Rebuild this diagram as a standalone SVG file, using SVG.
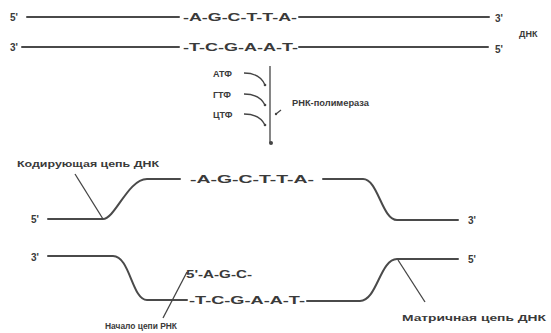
<svg xmlns="http://www.w3.org/2000/svg" width="551" height="333" viewBox="0 0 551 333">
<style>
text{font-family:"Liberation Sans",Arial,sans-serif;font-weight:bold;fill:#3a3a3a;font-size:10px}
.seq{font-size:10px}
.lbl{font-size:9px}
.ln{fill:none;stroke:#4a4a4a;stroke-width:2;stroke-linecap:round}
.thin{fill:none;stroke:#444;stroke-width:1.3}
</style>
<rect width="551" height="333" fill="#fff"/>
<g id="connectors">
<line class="ln" x1="27" y1="17" x2="179" y2="17"/>
<line class="ln" x1="299" y1="17" x2="489" y2="17"/>
<line class="ln" x1="22" y1="47" x2="179" y2="47"/>
<line class="ln" x1="299" y1="47" x2="488" y2="47"/>
<path class="ln" d="M48 219 H103 C115 219 128 179 147 179 H180"/>
<path class="ln" d="M323 179 H363 C378 179 382 220 397 220 H458"/>
<path class="ln" d="M48 256 H113 C130 256 132 300 147 300 H187"/>
<path class="ln" d="M307 301 H360 C377 301 380 259 397 259 H458"/>
<line class="thin" x1="75" y1="174" x2="103" y2="219"/>
<line class="thin" x1="187" y1="272" x2="163" y2="318"/>
<line class="thin" x1="398" y1="260" x2="425" y2="302"/>
<line class="thin" x1="270" y1="66" x2="270" y2="143"/>
<circle cx="271" cy="143" r="2" fill="#444"/>
<path class="thin" d="M244 73 C255 73 262 78 265 85"/>
<path class="thin" d="M244 94 C255 94 262 99 265 105"/>
<path class="thin" d="M244 114 C255 114 262 119 265 125"/>
<circle cx="265" cy="85" r="1.3" fill="#444"/>
<circle cx="265" cy="105" r="1.3" fill="#444"/>
<circle cx="265" cy="125" r="1.3" fill="#444"/>
<line class="thin" x1="276" y1="114" x2="281" y2="110"/>
<circle cx="276" cy="114" r="1.2" fill="#444"/>
</g>
<g id="dna-top">
<text x="10" y="21">5'</text>
<text class="seq" x="183" y="21" textLength="114" lengthAdjust="spacingAndGlyphs">-A-G-C-T-T-A-</text>
<text x="495" y="22">3'</text>
<text x="10" y="51">3'</text>
<text class="seq" x="183" y="51" textLength="115" lengthAdjust="spacingAndGlyphs">-T-C-G-A-A-T-</text>
<text x="495" y="53">5'</text>
<text class="lbl" x="519" y="37">ДНК</text>
</g>
<g id="polymerase">
<text class="lbl" x="213" y="77">АТФ</text>
<text class="lbl" x="213" y="98">ГТФ</text>
<text class="lbl" x="213" y="118">ЦТФ</text>
<text class="lbl" x="292" y="106" textLength="77" lengthAdjust="spacingAndGlyphs">РНК-полимераза</text>
</g>
<g id="coding">
<text class="lbl" x="17" y="167" textLength="142" lengthAdjust="spacingAndGlyphs">Кодирующая цепь ДНК</text>
<text x="31" y="223">5'</text>
<text class="seq" x="190" y="183" textLength="124" lengthAdjust="spacingAndGlyphs">-A-G-C-T-T-A-</text>
<text x="468" y="224">3'</text>
</g>
<g id="template">
<text x="31" y="261">3'</text>
<text class="seq" x="186" y="278" textLength="66" lengthAdjust="spacingAndGlyphs">5'-A-G-C-</text>
<text class="seq" x="189" y="304" textLength="116" lengthAdjust="spacingAndGlyphs">-T-C-G-A-A-T-</text>
<text x="468" y="263">5'</text>
<text class="lbl" x="105" y="329" textLength="72" lengthAdjust="spacingAndGlyphs">Начало цепи РНК</text>
<text class="lbl" x="402" y="321" textLength="144" lengthAdjust="spacingAndGlyphs">Матричная цепь ДНК</text>
</g>
</svg>
